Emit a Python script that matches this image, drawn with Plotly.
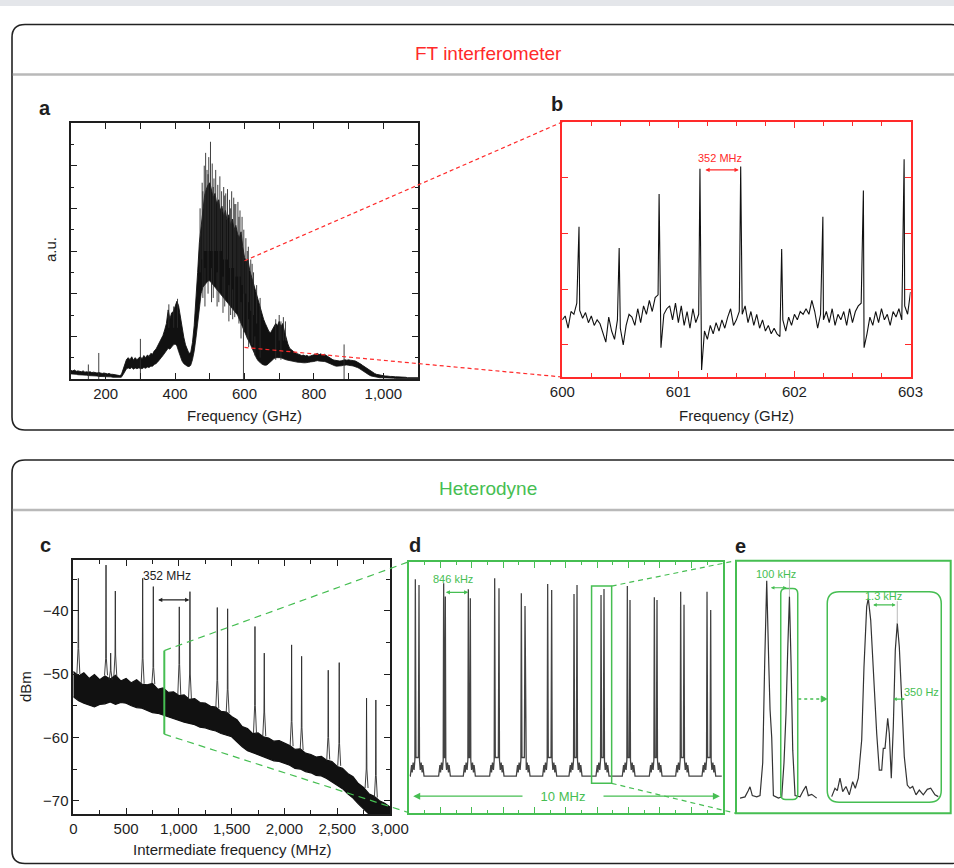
import plotly.graph_objects as go

W, H = 954, 868
FONT = "Liberation Sans, Arial, Helvetica, sans-serif"
RED = "#ff2a2a"
GREEN = "#46be52"
INK = "#1e1e1e"
TRACE = "#111111"

# ---------------- Panel a: broadband FT spectrum ----------------
a_freq = list(range(100, 1101, 5))
a_upper = [
    0.20, 0.19, 0.21, 0.18, 0.19, 0.18, 0.17, 0.19, 0.16, 0.17, 0.16, 0.17, 0.15, 0.16, 0.15, 0.14, 0.15, 0.14, 0.13, 0.14,
    0.13, 0.12, 0.13, 0.11, 0.11, 0.10, 0.10, 0.09, 0.08, 0.10, 0.22, 0.36, 0.46, 0.50, 0.45, 0.52, 0.44, 0.50, 0.45, 0.49,
    0.52, 0.47, 0.55, 0.50, 0.56, 0.53, 0.60, 0.58, 0.66, 0.70, 0.78, 0.85, 0.95, 1.02, 1.15, 1.30, 1.62, 1.40, 1.55, 1.58,
    1.70, 1.82, 1.72, 1.45, 1.20, 0.98, 0.80, 0.68, 0.60, 0.62, 0.85, 1.25, 1.80, 2.50, 3.20, 3.60, 4.00, 4.30, 4.45, 4.55,
    4.60, 4.45, 4.25, 4.35, 4.10, 4.20, 3.95, 4.05, 3.80, 3.95, 3.70, 3.85, 3.60, 3.75, 3.50, 3.60, 3.40, 3.30, 3.45, 3.10,
    2.85, 2.75, 2.80, 2.55, 2.40, 2.25, 2.15, 1.95, 1.80, 1.65, 1.50, 1.40, 1.30, 1.20, 1.12, 1.08, 1.15, 1.22, 1.30, 1.25,
    1.35, 1.22, 1.30, 1.12, 0.95, 0.82, 0.72, 0.68, 0.64, 0.62, 0.60, 0.58, 0.57, 0.55, 0.56, 0.54, 0.55, 0.53, 0.54, 0.55,
    0.56, 0.58, 0.60, 0.57, 0.59, 0.56, 0.58, 0.55, 0.52, 0.50, 0.47, 0.45, 0.44, 0.43, 0.42, 0.42, 0.43, 0.44, 0.45, 0.44,
    0.45, 0.44, 0.44, 0.43, 0.42, 0.40, 0.38, 0.35, 0.32, 0.29, 0.26, 0.23, 0.20, 0.17, 0.15, 0.13, 0.11, 0.10, 0.09, 0.08,
    0.08, 0.07, 0.07, 0.06, 0.06, 0.06, 0.05, 0.05, 0.05, 0.05, 0.04, 0.04, 0.04, 0.04, 0.03, 0.03, 0.03, 0.03, 0.03, 0.03, 0.03,
]
a_lower = [
    0.12, 0.12, 0.11, 0.11, 0.10, 0.10, 0.10, 0.09, 0.09, 0.09, 0.08, 0.08, 0.08, 0.07, 0.07, 0.07, 0.06, 0.06, 0.06, 0.06,
    0.06, 0.05, 0.05, 0.05, 0.04, 0.04, 0.03, 0.03, 0.03, 0.04, 0.10, 0.18, 0.24, 0.26, 0.24, 0.27, 0.23, 0.26, 0.24, 0.26,
    0.25, 0.24, 0.27, 0.25, 0.28, 0.27, 0.30, 0.30, 0.34, 0.36, 0.40, 0.44, 0.50, 0.55, 0.60, 0.66, 0.72, 0.70, 0.76, 0.80,
    0.82, 0.78, 0.65, 0.52, 0.42, 0.36, 0.32, 0.30, 0.29, 0.32, 0.45, 0.65, 0.95, 1.35, 1.75, 2.00, 2.15, 2.20, 2.25, 2.30,
    2.30, 2.25, 2.20, 2.15, 2.10, 2.05, 2.00, 1.95, 1.90, 1.85, 1.80, 1.75, 1.70, 1.65, 1.60, 1.55, 1.50, 1.40, 1.30, 1.20,
    1.10, 1.00, 0.92, 0.85, 0.75, 0.65, 0.55, 0.48, 0.42, 0.38, 0.35, 0.33, 0.32, 0.33, 0.36, 0.40, 0.44, 0.48, 0.50, 0.50,
    0.50, 0.50, 0.48, 0.46, 0.45, 0.44, 0.43, 0.42, 0.41, 0.40, 0.40, 0.39, 0.39, 0.38, 0.38, 0.38, 0.38, 0.39, 0.40, 0.40,
    0.41, 0.42, 0.43, 0.42, 0.42, 0.41, 0.41, 0.40, 0.38, 0.36, 0.34, 0.32, 0.31, 0.30, 0.30, 0.30, 0.31, 0.32, 0.33, 0.33,
    0.32, 0.32, 0.31, 0.30, 0.29, 0.27, 0.25, 0.22, 0.19, 0.16, 0.13, 0.11, 0.09, 0.07, 0.06, 0.05, 0.04, 0.04, 0.03, 0.03,
    0.03, 0.02, 0.02, 0.02, 0.02, 0.02, 0.02, 0.01, 0.01, 0.01, 0.01, 0.01, 0.01, 0.01, 0.01, 0.01, 0.01, 0.01, 0.01, 0.01, 0.01,
]
a_spike_f = [150, 180, 300, 597, 887,
             382, 396, 407, 472, 478, 484, 488, 492, 497, 502, 507, 512, 517, 523, 529, 534, 540, 546, 551,
             557, 563, 569, 575, 581, 587, 593, 604, 611, 618, 626, 635, 700, 712, 718,
             486, 505, 521, 538, 555, 566, 590, 612, 630,
             480, 495, 510, 526, 543, 560, 572, 584, 598, 608, 622, 645, 690, 705]
a_spike_lo = [0, 0, 0, 0, 0,
              1.2, 1.2, 1.2, 2.5, 2.8, 3.0, 3.0, 3.0, 3.0, 3.0, 3.0, 3.0, 3.0, 3.0, 3.0, 3.0, 2.8, 2.8, 2.8,
              2.6, 2.6, 2.6, 2.4, 2.4, 2.4, 2.2, 2.0, 1.8, 1.6, 1.5, 1.3, 0.9, 0.9, 0.9,
              1.7, 1.8, 1.7, 1.55, 1.35, 1.4, 0.95, 0.75, 0.55,
              1.9, 2.0, 1.9, 1.8, 1.7, 1.5, 1.45, 1.3, 1.1, 0.95, 0.8, 0.5, 0.45, 0.45]
a_spike_hi = [0.34, 0.61, 0.94, 2.0, 0.81,
              1.75, 1.70, 1.88, 4.0, 4.6, 5.0, 5.3, 4.9, 5.2, 5.56, 5.05, 4.7, 4.9, 4.55, 4.75, 4.4, 4.5, 4.35, 4.45,
              4.2, 4.4, 4.25, 4.1, 4.15, 3.95, 3.8, 3.3, 3.1, 2.8, 2.5, 2.2, 1.5, 1.45, 1.35,
              2.6, 2.6, 2.5, 2.4, 2.2, 2.1, 1.8, 1.4, 1.0,
              4.4, 4.8, 4.5, 4.2, 4.3, 4.0, 4.1, 3.8, 3.5, 3.0, 2.7, 1.9, 1.4, 1.35]

# ---------------- Panel b: zoom 600-603 GHz ----------------
b_grid_x = [round(600 + 0.025 * i, 3) for i in range(121)]
b_grid_y = [
    1.45, 1.52, 1.30, 1.60, 1.55, 1.75, 1.62, 1.48, 1.58, 1.40, 1.52, 1.35,
    1.45, 1.38, 1.20, 1.05, 1.50, 1.25, 1.10, 1.45, 1.30, 1.00, 1.35, 1.55,
    1.50, 1.35, 1.65, 1.40, 1.70, 1.55, 1.80, 1.60, 1.85, 1.90, 0.95, 1.55,
    1.65, 1.70, 1.45, 1.75, 1.40, 1.70, 1.35, 1.60, 1.30, 1.65, 1.40, 1.55,
    0.55, 1.25, 1.10, 1.35, 1.20, 1.40, 1.25, 1.45, 1.30, 1.50, 1.65, 1.35,
    1.45, 1.60, 1.55, 1.70, 1.40, 1.60, 1.35, 1.55, 1.30, 1.45, 1.25, 1.35,
    1.20, 1.30, 1.20, 1.15, 1.45, 1.25, 1.50, 1.35, 1.55, 1.45, 1.60, 1.55,
    1.65, 1.55, 1.80, 1.60, 1.30, 1.55, 1.45, 1.60, 1.40, 1.65, 1.35, 1.55,
    1.45, 1.60, 1.35, 1.65, 1.40, 1.60, 1.70, 1.75, 0.95, 1.20, 1.50, 1.35,
    1.60, 1.40, 1.65, 1.45, 1.55, 1.35, 1.60, 1.50, 1.65, 1.45, 1.70, 1.55,
    1.95,
]
b_peak_x = [600.144, 600.490, 600.834, 601.186, 601.537, 601.890, 602.245, 602.594, 602.945]
b_peak_y = [3.12, 2.74, 3.71, 4.16, 4.20, 2.72, 3.30, 3.77, 4.33]

# ---------------- Panel c: heterodyne IF spectrum ----------------
c_freq = list(range(0, 3001, 50))
c_upper = [
    -49.6, -50.3, -49.8, -50.7, -50.1, -50.9, -50.3, -50.8, -50.2, -51.1,
    -50.7, -51.4, -50.9, -51.6, -51.7, -51.5, -52.4, -52.2, -52.9, -52.8,
    -53.4, -53.3, -54.0, -53.9, -54.5, -54.6, -55.1, -55.2, -55.9, -56.0,
    -56.7, -57.2, -58.3, -58.6, -59.4, -59.3, -59.9, -60.1, -60.6, -60.5,
    -60.9, -61.3, -61.9, -61.8, -62.5, -62.7, -63.1, -63.0, -63.6, -63.8,
    -64.6, -64.9, -65.7, -66.2, -67.3, -67.9, -68.9, -69.3, -70.0, -70.4,
    -71.0,
]
c_lower = [
    -53.6, -54.2, -54.6, -54.9, -55.2, -54.8, -54.7, -54.4, -54.8, -54.5,
    -54.6, -55.0, -55.3, -55.4, -55.7, -56.1, -56.2, -56.5, -56.7, -57.1,
    -57.3, -57.6, -57.8, -58.0, -58.4, -58.5, -58.8, -59.0, -59.4, -59.6,
    -59.9, -60.7, -61.5, -62.1, -62.4, -62.8, -63.1, -63.3, -63.7, -63.8,
    -64.1, -64.4, -64.9, -65.0, -65.4, -65.6, -66.0, -66.1, -66.5, -67.0,
    -67.6, -68.1, -68.9, -69.6, -70.5, -71.3, -72.1, -72.1, -72.1, -72.1,
    -72.1,
]
c_spike_x = [48, 310, 354, 398, 657, 758, 1004, 1105, 1364, 1462, 1721, 1809, 2068, 2163, 2415, 2519, 2778, 2866]
c_spike_peak = [-34.9, -32.8, -46.7, -36.9, -34.9, -36.2, -39.4, -37.0, -39.5, -39.7, -42.5, -46.7, -45.4, -47.2, -49.4, -48.2, -53.8, -54.1]
c_spike_ped = [-46.0, -47.5, -49.5, -47.0, -47.5, -49.0, -48.5, -50.0, -51.0, -52.5, -55.0, -56.0, -57.5, -58.5, -60.0, -61.0, -65.0, -66.0]
c_spike_foot = [-50.0, -50.2, -50.9, -50.4, -51.5, -51.6, -53.3, -54.0, -55.4, -56.2, -59.3, -59.8, -61.4, -62.0, -63.5, -64.5, -68.0, -69.5]

# ---------------- Panel d: 10 MHz span, comb-line doublets ----------------
d_left_x = [0.202, 1.105, 1.891, 2.731, 3.581, 4.420, 5.260, 6.121, 6.960, 7.821, 8.660, 9.500]
d_right_x = [0.319, 1.158, 1.955, 2.869, 3.698, 4.548, 5.356, 6.216, 7.045, 7.906, 8.767, 9.617]
d_left_h = [0.930, 0.914, 0.890, 0.934, 0.874, 0.911, 0.871, 0.867, 0.903, 0.858, 0.880, 0.880]
d_right_h = [0.907, 0.861, 0.854, 0.894, 0.824, 0.887, 0.907, 0.891, 0.847, 0.847, 0.828, 0.808]
d_baseline = 0.146
d_foot_dx_left = [-0.16, -0.12, -0.10, -0.07, -0.04, -0.015]
d_foot_y_left = [0.146, 0.19, 0.16, 0.20, 0.17, 0.21]
d_foot_dx_right = [0.015, 0.04, 0.07, 0.10, 0.12, 0.16]
d_foot_y_right = [0.21, 0.17, 0.20, 0.16, 0.19, 0.146]

# ---------------- Panel e: 100 kHz doublet and 1.3 kHz zoom ----------------
e1_khz = [-117.6, -95.6, -81, -73.6, -63.4, -44, -29.5, -17.6, -8.8, 0, 8.8, 14.7, 22, 29.4, 51.4, 66, 76,
          85, 92.5, 100, 107, 114.5, 124.7, 146.7, 161, 173, 183, 198, 220]
e1_amp = [0.06, 0.065, 0.09, 0.105, 0.07, 0.065, 0.07, 0.2, 0.6, 0.921, 0.6, 0.41, 0.3, 0.07, 0.06, 0.065, 0.2,
          0.396, 0.65, 0.858, 0.6, 0.25, 0.07, 0.065, 0.09, 0.108, 0.07, 0.075, 0.06]
e2_hz = [-1641, -1493, -1390, -1269, -1148, -1000, -852, -700, -583, -448, -296, -193, -72, 0, 108, 224, 377,
         493, 601, 673, 749, 870, 942, 1031, 1121, 1211, 1300, 1390, 1498, 1614, 1749, 1870, 1991, 2139,
         2287, 2466, 2646, 2798, 2991, 3139]
e2_amp = [0.066, 0.099, 0.09, 0.139, 0.086, 0.106, 0.073, 0.125, 0.099, 0.139, 0.29, 0.58, 0.818, 0.851, 0.765,
          0.554, 0.316, 0.171, 0.171, 0.257, 0.257, 0.376, 0.316, 0.139, 0.343, 0.646, 0.752, 0.66, 0.435,
          0.224, 0.112, 0.099, 0.106, 0.073, 0.092, 0.073, 0.095, 0.099, 0.073, 0.066]

# ---------------- geometry (pixels of the 954 x 868 canvas) ----------------
PANELS = {
    "a": dict(px=(71, 418), py=(379, 123), xr=(100, 1100), yr=(0, 6)),
    "b": dict(px=(562.3, 910.5), py=(377, 122), xr=(600, 603), yr=(0.425, 5)),
    "c": dict(px=(73.3, 390), py=(814, 560), xr=(0, 3000), yr=(-72.1, -32)),
    "d": dict(px=(409, 722.7), py=(812.7, 561.7), xr=(0, 10), yr=(0, 1)),
    "e": dict(px=(736, 950.7), py=(813.3, 560.7), xr=(0, 1), yr=(0, 1)),
    "e1": dict(px=(740, 818.3), py=(813.3, 560.7), xr=(-117.6, 227), yr=(0, 1)),
    "e2": dict(px=(830, 940), py=(813.3, 560.7), xr=(-1717, 3215), yr=(0, 1)),
}
AXN = {"a": "", "b": "2", "c": "3", "d": "4", "e1": "5", "e2": "6"}


def to_px(p, x, y):
    P = PANELS[p]
    X = P["px"][0] + (x - P["xr"][0]) / (P["xr"][1] - P["xr"][0]) * (P["px"][1] - P["px"][0])
    Y = P["py"][0] + (y - P["yr"][0]) / (P["yr"][1] - P["yr"][0]) * (P["py"][1] - P["py"][0])
    return X, Y


def pp(X, Y):
    return X / W, 1 - Y / H


def to_paper(p, x, y):
    return pp(*to_px(p, x, y))


def rrect_path(x0, y0, x1, y1, r):
    def P(X, Y):
        a, b = pp(X, Y)
        return f"{a:.5f},{b:.5f}"
    s = f"M{P(x0 + r, y0)} L{P(x1 - r, y0)} Q{P(x1, y0)} {P(x1, y0 + r)} L{P(x1, y1 - r)} Q{P(x1, y1)} {P(x1 - r, y1)} "
    s += f"L{P(x0 + r, y1)} Q{P(x0, y1)} {P(x0, y1 - r)} L{P(x0, y0 + r)} Q{P(x0, y0)} {P(x0 + r, y0)} Z"
    return s


fig = go.Figure()


def add(trace, p):
    n = AXN[p]
    trace.update(xaxis="x" + n, yaxis="y" + n, showlegend=False, hoverinfo="skip")
    fig.add_trace(trace)


# panel a
add(go.Scatter(x=a_freq, y=a_lower, mode="lines", line=dict(color=TRACE, width=0.8)), "a")
add(go.Scatter(x=a_freq, y=a_upper, mode="lines", fill="tonexty", fillcolor=TRACE,
               line=dict(color=TRACE, width=0.9)), "a")
sx, sy = [], []
for f, lo, hi in zip(a_spike_f, a_spike_lo, a_spike_hi):
    sx += [f, f, None]
    sy += [lo, hi, None]
add(go.Scatter(x=sx, y=sy, mode="lines", line=dict(color="#2b2b2b", width=0.9)), "a")

# panel b
pts = sorted(zip(b_grid_x + b_peak_x, b_grid_y + b_peak_y))
add(go.Scatter(x=[p[0] for p in pts], y=[p[1] for p in pts], mode="lines",
               line=dict(color=TRACE, width=1.1)), "b")

# panel c
add(go.Scatter(x=c_freq, y=c_lower, mode="lines", line=dict(color=TRACE, width=1.2)), "c")
add(go.Scatter(x=c_freq, y=c_upper, mode="lines", fill="tonexty", fillcolor=TRACE,
               line=dict(color=TRACE, width=1.2)), "c")
cx, cy = [], []
for x, pk, pd_, ft in zip(c_spike_x, c_spike_peak, c_spike_ped, c_spike_foot):
    cx += [x - 14, x - 3, x, x + 3, x + 14, None]
    cy += [ft, pd_, pk, pd_, ft, None]
add(go.Scatter(x=cx, y=cy, mode="lines", line=dict(color="#2a2a2a", width=0.9)), "c")

# panel d
dx, dy = [0.03], [d_baseline]
for lx, rx, lh, rh in zip(d_left_x, d_right_x, d_left_h, d_right_h):
    dx += [lx + o for o in d_foot_dx_left]
    dy += d_foot_y_left
    dx += [lx, lx + 0.02, rx - 0.02, rx]
    dy += [lh, 0.22, 0.22, rh]
    dx += [rx + o for o in d_foot_dx_right]
    dy += d_foot_y_right
dx.append(9.97)
dy.append(d_baseline)
add(go.Scatter(x=dx, y=dy, mode="lines", line=dict(color="#444444", width=1.3)), "d")

# panel e
add(go.Scatter(x=e1_khz, y=e1_amp, mode="lines", line=dict(color="#333333", width=1.2)), "e1")
add(go.Scatter(x=e2_hz, y=e2_amp, mode="lines", line=dict(color="#333333", width=1.2)), "e2")


# ---------------- axes ----------------
def axis(p, is_x, **kw):
    P = PANELS[p]
    if is_x:
        dom = [P["px"][0] / W, P["px"][1] / W]
        rng = list(P["xr"])
    else:
        dom = [1 - P["py"][0] / H, 1 - P["py"][1] / H]
        rng = list(P["yr"])
    base = dict(domain=dom, range=rng, showgrid=False, zeroline=False, showline=True, automargin=False,
                mirror="ticks", linewidth=1.5, linecolor=INK, ticks="inside", tickcolor=INK,
                tickwidth=1, ticklen=6, tickfont=dict(family=FONT, size=15, color=INK),
                fixedrange=True, anchor=("y" if is_x else "x") + AXN[p])
    base.update(kw)
    return base


layout = dict(
    width=W, height=H, autosize=False,
    margin=dict(l=0, r=0, t=0, b=0, pad=0, autoexpand=False),
    paper_bgcolor="white", plot_bgcolor="rgba(0,0,0,0)", showlegend=False,
    font=dict(family=FONT, color=INK),
)
layout["xaxis"] = axis("a", True, tick0=0, dtick=200, tickformat=",d",
                       minor=dict(dtick=100, ticklen=6, ticks="inside", tickcolor=INK))
layout["yaxis"] = axis("a", False, tick0=0, dtick=1, showticklabels=False,
                       minor=dict(dtick=0.5, ticklen=3, ticks="inside", tickcolor=INK))
layout["xaxis2"] = axis("b", True, tick0=600, dtick=1, linecolor=RED, linewidth=2, tickcolor=RED,
                        minor=dict(dtick=0.25, ticklen=4, ticks="inside", tickcolor=RED))
layout["yaxis2"] = axis("b", False, tick0=0, dtick=1, showticklabels=False, linecolor=RED,
                        linewidth=2, tickcolor=RED)
layout["xaxis3"] = axis("c", True, tick0=0, dtick=500, tickformat=",d",
                        minor=dict(dtick=250, ticklen=4, ticks="inside", tickcolor=INK))
layout["yaxis3"] = axis("c", False, tick0=-70, dtick=10,
                        minor=dict(dtick=5, ticklen=4, ticks="inside", tickcolor=INK))
layout["xaxis4"] = axis("d", True, tick0=0, dtick=1, showticklabels=False, linecolor=GREEN,
                        linewidth=2, tickcolor=GREEN,
                        minor=dict(dtick=0.5, ticklen=3, ticks="inside", tickcolor=GREEN))
layout["yaxis4"] = axis("d", False, ticks="", showticklabels=False, linecolor=GREEN, linewidth=2)
layout["xaxis5"] = axis("e1", True, visible=False, showline=False)
layout["yaxis5"] = axis("e1", False, visible=False, showline=False)
layout["xaxis6"] = axis("e2", True, visible=False, showline=False)
layout["yaxis6"] = axis("e2", False, visible=False, showline=False)
fig.update_layout(**layout)

# ---------------- shapes ----------------
shapes = []
shapes.append(dict(type="rect", xref="paper", yref="paper", x0=0, x1=1, y0=1 - 6 / H, y1=1,
                   fillcolor="#e4e6ea", line=dict(width=0), layer="below"))
for top, sep, bot in [(24.5, 74.5, 430), (460, 510, 863.5)]:
    shapes.append(dict(type="path", xref="paper", yref="paper", path=rrect_path(12, top, 964, bot, 13),
                       line=dict(color="#222222", width=1.6)))
    a0, b0 = pp(12.8, sep)
    a1, _ = pp(954, sep)
    shapes.append(dict(type="line", xref="paper", yref="paper", x0=a0, x1=a1, y0=b0, y1=b0,
                       line=dict(color="#b9b9b9", width=2.5)))
e0 = to_paper("e", 0, 0)
e1p = to_paper("e", 1, 1)
shapes.append(dict(type="rect", xref="paper", yref="paper", x0=e0[0], y0=e0[1], x1=e1p[0], y1=e1p[1],
                   line=dict(color=GREEN, width=2)))


def pline(p0, p1, color, dash="4px,3px", width=1.2):
    shapes.append(dict(type="line", xref="paper", yref="paper", x0=p0[0], y0=p0[1], x1=p1[0], y1=p1[1],
                       line=dict(color=color, width=width, dash=dash)))


pline(to_paper("a", 600, 2.77), to_paper("b", 600, 5), RED)
pline(to_paper("a", 600, 0.74), to_paper("b", 600, 0.425), RED)
pline(to_paper("c", 862, -46.3), to_paper("c", 862, -59.5), GREEN, dash="solid", width=2)
pline(to_paper("c", 862, -46.3), to_paper("d", 0, 1), GREEN, dash="7px,5px")
pline(to_paper("c", 862, -59.5), to_paper("d", 0, 0), GREEN, dash="7px,5px")
r0 = to_paper("d", 5.82, 0.117)
r1 = to_paper("d", 6.46, 0.903)
shapes.append(dict(type="rect", xref="paper", yref="paper", x0=r0[0], y0=r0[1], x1=r1[0], y1=r1[1],
                   line=dict(color=GREEN, width=1.5)))
pline(to_paper("d", 6.46, 0.903), to_paper("e", 0, 1), GREEN, dash="5px,4px")
pline(to_paper("d", 6.46, 0.117), to_paper("e", 0, 0), GREEN, dash="5px,4px")
X0, Y0 = to_px("e1", 61.7, 0.89)
X1, Y1 = to_px("e1", 136.5, 0.055)
shapes.append(dict(type="path", xref="paper", yref="paper", path=rrect_path(X0, Y0, X1, Y1, 5),
                   line=dict(color=GREEN, width=1.5)))
X0b, Y0b = to_px("e", 0.425, 0.877)
X1b, Y1b = to_px("e", 0.956, 0.0435)
shapes.append(dict(type="path", xref="paper", yref="paper", path=rrect_path(X0b, Y0b, X1b, Y1b, 12),
                   line=dict(color=GREEN, width=1.5)))
ya = 699
pline(pp(X1 + 0.5, ya), pp(X0b - 5, ya), GREEN, dash="dot", width=1.3)
t1, t2, t3 = pp(X0b - 0.5, ya), pp(X0b - 6, ya - 3), pp(X0b - 6, ya + 3)
shapes.append(dict(type="path", xref="paper", yref="paper",
                   path=f"M{t1[0]},{t1[1]} L{t2[0]},{t2[1]} L{t3[0]},{t3[1]} Z",
                   fillcolor=GREEN, line=dict(color=GREEN, width=1)))
pline(to_paper("e1", 100, 0.86), to_paper("e1", 100, 0.93), "#aaaaaa", dash="solid", width=0.8)
pline(to_paper("e2", 1300, 0.75), to_paper("e2", 1300, 0.84), "#aaaaaa", dash="solid", width=0.8)
pline(to_paper("e2", 0, 0.85), to_paper("e2", 0, 0.87), "#aaaaaa", dash="solid", width=0.8)
fig.update_layout(shapes=shapes)

# ---------------- annotations ----------------
anns = []


def text_px(X, Y, s, size=15, color=INK, bold=False, angle=0, bg=None):
    x, y = pp(X, Y)
    d = dict(xref="paper", yref="paper", x=x, y=y, text=(f"<b>{s}</b>" if bold else s), showarrow=False,
             xanchor="center", yanchor="middle", textangle=angle,
             font=dict(family=FONT, size=size, color=color))
    if bg:
        d.update(bgcolor=bg, borderpad=1)
    anns.append(d)


def text_data(p, x, y, s, size=11, color=INK, bg=None):
    X, Y = to_px(p, x, y)
    text_px(X, Y, s, size=size, color=color, bg=bg)


def darrow(p, x0, x1, y, color, width=1.2, size=0.7):
    n = AXN[p]
    anns.append(dict(xref="x" + n, yref="y" + n, axref="x" + n, ayref="y" + n, x=x1, y=y, ax=x0, ay=y,
                     text="", showarrow=True, arrowhead=2, startarrowhead=2, arrowside="end+start",
                     arrowsize=size, startarrowsize=size, arrowwidth=width, arrowcolor=color,
                     standoff=0, startstandoff=0))


text_px(488, 53, "FT interferometer", size=19, color=RED)
text_px(488, 488, "Heterodyne", size=19, color=GREEN)
text_px(45, 108, "a", size=20, bold=True)
text_px(557, 104, "b", size=20, bold=True)
text_px(45, 545, "c", size=20, bold=True)
text_px(415, 545, "d", size=20, bold=True)
text_px(740, 546, "e", size=20, bold=True)
text_px(50, 250, "a.u.", size=15, angle=-90)
text_px(244, 416, "Frequency (GHz)", size=15)
text_px(736, 416, "Frequency (GHz)", size=15)
text_px(25, 687, "dBm", size=15, angle=-90)
text_px(232, 849, "Intermediate frequency (MHz)", size=15)

text_data("b", 601.36, 4.36, "352 MHz", size=11, color=RED)
darrow("b", 601.22, 601.52, 4.14, RED)
text_data("c", 884, -34.6, "352 MHz", size=12, color="#222222")
darrow("c", 789, 1099, -38.3, "#222222")
text_data("d", 1.41, 0.93, "846 kHz", size=11, color=GREEN)
darrow("d", 1.125, 1.89, 0.878, GREEN)
darrow("d", 0.085, 9.91, 0.066, GREEN, width=1.4, size=1.0)
text_data("d", 4.92, 0.066, "\u2003 10 MHz \u2003", size=13, color=GREEN, bg="white")
text_data("e1", 41, 0.946, "100 kHz", size=11, color=GREEN)
darrow("e1", 11.6, 88, 0.893, GREEN, size=0.6)
text_data("e2", 673, 0.86, "1.3 kHz", size=11, color=GREEN)
darrow("e2", 150, 1226, 0.825, GREEN, size=0.6)
text_data("e2", 2395, 0.481, "350 Hz", size=11, color=GREEN)
darrow("e2", 1046, 1644, 0.452, GREEN, size=0.6)
fig.update_layout(annotations=anns)

fig.write_html(
    "out.html",
    config={"displayModeBar": False},
    post_script="document.body.style.margin='0';document.body.style.padding='0';"
                "document.documentElement.style.overflow='hidden';document.body.style.overflow='hidden';",
)
